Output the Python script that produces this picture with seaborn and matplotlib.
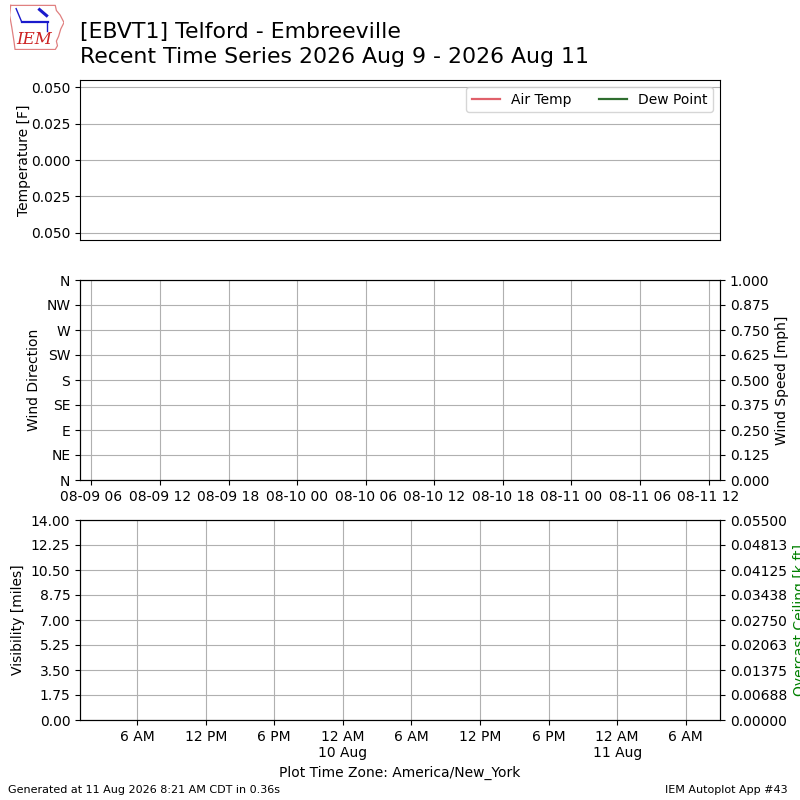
import numpy as np
import pandas as pd
import matplotlib
matplotlib.use("Agg")
import matplotlib.pyplot as plt
import matplotlib.dates as mdates
from matplotlib.lines import Line2D
from matplotlib.ticker import FuncFormatter, FixedLocator
import seaborn as sns

# ---------------- data (the station reported nothing in the window) ----------
valid_utc = []          # observation times
tmpf = []               # air temperature [F]
dwpf = []               # dew point [F]
drct = []               # wind direction [deg]
smph = []               # wind speed [mph]
vsby = []               # visibility [miles]
ceiling = []            # overcast ceiling [k ft]

series_labels = ["Air Temp", "Dew Point"]
series_colors = ["#e0606a", "#2f6e2f"]
dir_ticks = [0, 45, 90, 135, 180, 225, 270, 315, 360]
dir_labels = ["N", "NE", "E", "SE", "S", "SW", "W", "NW", "N"]
temp_ticks = [-0.05, -0.025, 0.0, 0.025, 0.05]
vis_ticks = [0, 1.75, 3.5, 5.25, 7.0, 8.75, 10.5, 12.25, 14.0]
ceil_max = 0.055
speed_max = 1.0

start = pd.Timestamp("2026-08-09 05:00", tz="UTC")
end = pd.Timestamp("2026-08-11 13:00", tz="UTC")
local_tz = "America/New_York"

title = ("[EBVT1] Telford - Embreeville\n"
         "Recent Time Series 2026 Aug 9 - 2026 Aug 11")
footer_left = "Generated at 11 Aug 2026 8:21 AM CDT in 0.36s"
footer_right = "IEM Autoplot App #43"

# ---------------- figure --------------------------------------------------
plt.rcParams["font.family"] = ["DejaVu Sans"]
fig = plt.figure(figsize=(8, 8), dpi=100)

ax1 = fig.add_axes([0.1, 0.7, 0.8, 0.2])
ax2 = fig.add_axes([0.1, 0.4, 0.8, 0.25])
ax3 = fig.add_axes([0.1, 0.1, 0.8, 0.25])


def draw_line(ax, x, y, color, label):
    if len(x):
        sns.lineplot(x=x, y=y, ax=ax, color=color, legend=False)
    return Line2D([], [], color=color, label=label, lw=1.6)


# --- top: temperature
handles = [
    draw_line(ax1, valid_utc, tmpf, series_colors[0], series_labels[0]),
    draw_line(ax1, valid_utc, dwpf, series_colors[1], series_labels[1]),
]
ax1.set_xlim(start, end)
ax1.set_ylim(-0.055, 0.055)
ax1.yaxis.set_major_locator(FixedLocator(temp_ticks))
ax1.yaxis.set_major_formatter(FuncFormatter(lambda v, p: f"{abs(v):.3f}"))
ax1.tick_params(axis="x", bottom=False, labelbottom=False)
ax1.set_xticks([])
ax1.grid(True, axis="y")
ax1.set_ylabel("Temperature [F]")
ax1.yaxis.set_label_coords(-0.077, 0.5)
ax1.legend(handles=handles, loc="upper right", ncol=2)

# --- middle: wind
if len(valid_utc):
    sns.scatterplot(x=valid_utc, y=drct, ax=ax2, color="b", legend=False)
ax2.set_xlim(start, end)
ax2.set_ylim(0, 360)
ax2.yaxis.set_major_locator(FixedLocator(dir_ticks))
ax2.set_yticklabels(dir_labels)
ax2.set_ylabel("Wind Direction")
ax2.xaxis.set_major_locator(mdates.HourLocator(byhour=range(0, 24, 6), tz="UTC"))
ax2.xaxis.set_major_formatter(mdates.DateFormatter("%m-%d %H", tz="UTC"))
ax2.grid(True)
ax2b = ax2.twinx()
if len(valid_utc):
    sns.lineplot(x=valid_utc, y=smph, ax=ax2b, color="k", legend=False)
ax2b.set_ylim(0, speed_max)
ax2b.yaxis.set_major_locator(FixedLocator(np.linspace(0, speed_max, 9)))
ax2b.yaxis.set_major_formatter(FuncFormatter(lambda v, p: f"{v:.3f}"))
ax2b.set_ylabel("Wind Speed [mph]")

# --- bottom: visibility / ceiling
if len(valid_utc):
    sns.lineplot(x=valid_utc, y=vsby, ax=ax3, color="k", legend=False)
ax3.set_xlim(start, end)
ax3.set_ylim(0, 14)
ax3.yaxis.set_major_locator(FixedLocator(vis_ticks))
ax3.yaxis.set_major_formatter(FuncFormatter(lambda v, p: f"{v:.2f}"))
ax3.set_ylabel("Visibility [miles]")
ax3.xaxis.set_major_locator(mdates.HourLocator(byhour=range(0, 24, 6), tz=local_tz))


def local_fmt(x, pos):
    dt = mdates.num2date(x, tz=local_tz)
    h = dt.hour % 12
    h = 12 if h == 0 else h
    s = f"{h} {'AM' if dt.hour < 12 else 'PM'}"
    if dt.hour == 0:
        s += f"\n{dt.day} {dt.strftime('%b')}"
    return s


ax3.xaxis.set_major_formatter(FuncFormatter(local_fmt))
ax3.grid(True)
ax3.set_xlabel(f"Plot Time Zone: {local_tz}")
ax3b = ax3.twinx()
if len(valid_utc):
    sns.lineplot(x=valid_utc, y=ceiling, ax=ax3b, color="g", legend=False)
ax3b.set_ylim(0, ceil_max)
ax3b.yaxis.set_major_locator(FixedLocator(np.linspace(0, ceil_max, 9)))
ax3b.yaxis.set_major_formatter(
    FuncFormatter(lambda v, p: f"{np.floor(v * 1e5 + 0.5 + 1e-9) / 1e5:.5f}"))
ax3b.set_ylabel("Overcast Ceiling [k ft]", color="g")

# --- titles / footers
fig.text(0.1, 0.916, title, fontsize=15.8, ha="left", va="bottom",
         linespacing=1.3)
fig.text(0.01, 0.006, footer_left, fontsize=8, ha="left", va="bottom")
fig.text(0.985, 0.006, footer_right, fontsize=8, ha="right", va="bottom")

# --- logo imitation
lax = fig.add_axes([0.012, 0.937, 0.068, 0.058])
lax.set_xlim(0, 1)
lax.set_ylim(0, 1)
lax.axis("off")
outline_x = [0.02, 0.84, 0.86, 0.93, 1.0, 0.94, 0.9, 0.86, 0.88, 0.84, 0.1, 0.08, 0.04, 0.0, 0.02]
outline_y = [0.97, 0.97, 0.86, 0.76, 0.6, 0.46, 0.3, 0.2, 0.1, 0.02, 0.02, 0.2, 0.5, 0.76, 0.97]
lax.plot(outline_x, outline_y, color="#e08080", lw=0.9)
lax.plot([0.22, 0.7], [0.62, 0.62], color="#1a1acc", lw=1.6)
lax.plot([0.22, 0.12], [0.62, 0.9], color="#1a1acc", lw=1.0)
lax.plot([0.55, 0.68], [0.88, 0.75], color="#1a1acc", lw=2.2)
lax.plot([0.68, 0.68], [0.62, 0.42], color="#1a1acc", lw=1.0)
lax.text(0.45, 0.06, "IEM", color="#cc2222", fontsize=12, fontstyle="italic",
         family=["DejaVu Serif"], ha="center", va="bottom")

fig.savefig("out.png", dpi=100)
